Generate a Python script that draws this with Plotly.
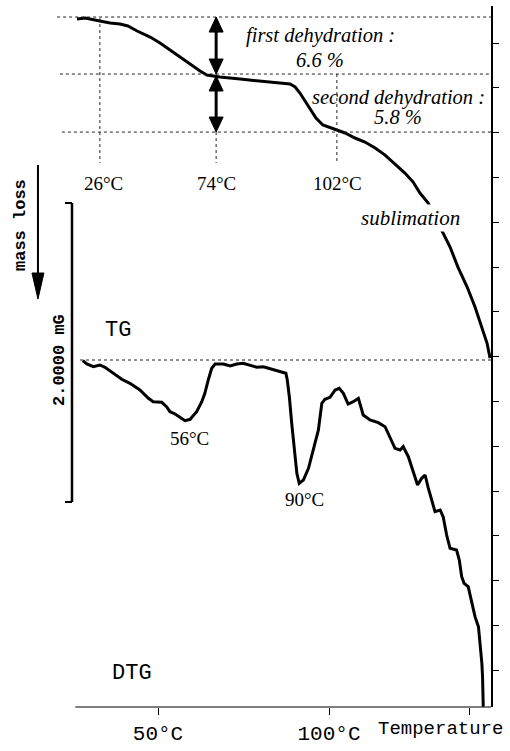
import plotly.graph_objects as go

# ---------------- data ----------------
# TG curve: temperature (°C) and remaining mass (%)
tg_T = [26.3, 28.7, 33.0, 36.0, 38.9, 41.2, 43.9, 47.7, 50.6, 53.5, 56.4, 59.4, 62.3, 64.3,
        66.1, 68.1, 74.0, 79.8, 85.7, 88.6, 90.1, 91.5, 93.0, 94.4, 96.2, 98.2, 100.3, 102.3,
        104.7, 107.6, 110.5, 113.5, 116.4, 119.3, 122.2, 124.6, 126.6, 129.0, 130.7, 132.5,
        135.4, 137.7, 140.4, 142.7, 144.7, 146.2, 147.1]
tg_mass = [99.78, 99.89, 99.57, 99.35, 99.24, 99.03, 98.49, 97.84, 97.20, 96.44, 95.69, 94.93,
           94.17, 93.74, 93.64, 93.53, 93.31, 93.10, 92.88, 92.77, 92.45, 91.80, 90.94, 90.08,
           89.10, 88.35, 88.03, 87.81, 87.49, 86.95, 86.52, 85.87, 85.11, 84.14, 83.17, 82.20,
           81.01, 79.94, 78.64, 77.24, 75.19, 73.03, 70.87, 68.72, 66.56, 64.83, 63.21]

# DTG curve: temperature (°C) and derivative signal (arbitrary units)
dtg_T = [28.0, 29.2, 31.1, 33.0, 34.5, 36.9, 39.4, 41.8, 44.7, 47.2, 48.6, 51.1, 52.5, 53.5,
         55.0, 56.4, 57.9, 59.4, 61.3, 62.8, 63.7, 64.7, 65.7, 66.7, 69.1, 71.1, 73.0, 74.9,
         76.9, 78.9, 80.8, 83.7, 86.2, 87.4, 87.8, 88.4, 89.1, 89.8, 90.6, 91.3, 92.5, 94.0,
         95.4, 96.9, 97.9, 98.8, 100.3, 101.8, 103.0, 104.2, 105.6, 107.1, 108.6, 110.0, 112.0,
         114.4, 116.4, 117.8, 119.3, 120.8, 121.7, 123.2, 124.7, 125.9, 127.1, 128.1, 129.0,
         130.0, 131.0, 132.5, 133.4, 134.4, 135.4, 137.3, 138.1, 138.8, 139.5, 140.7, 141.7,
         142.7, 143.7, 144.2, 144.7, 144.9, 145.1]
dtg_val = [-0.07, -0.40, -0.67, -0.50, -0.73, -1.33, -1.93, -2.33, -3.00, -3.83, -4.17, -4.23,
           -4.67, -5.17, -5.40, -5.73, -6.07, -5.93, -5.17, -4.17, -3.33, -2.00, -0.83, -0.40,
           -0.40, -0.60, -0.40, -0.33, -0.53, -0.73, -0.67, -0.93, -1.17, -1.33, -2.00, -3.67,
           -6.33, -9.00, -11.33, -12.33, -12.00, -10.83, -9.00, -7.00, -4.33, -3.93, -3.73,
           -3.00, -2.83, -3.33, -4.40, -4.17, -3.83, -5.50, -6.00, -6.27, -6.67, -7.67, -8.83,
           -9.00, -8.67, -9.67, -11.17, -12.50, -11.83, -11.50, -12.77, -14.00, -15.17, -15.00,
           -15.70, -17.50, -18.83, -19.00, -20.00, -21.67, -22.33, -22.67, -24.17, -25.67,
           -26.67, -28.33, -30.33, -31.67, -34.67]

# reference levels / marked temperatures
tg_levels = [100.0, 93.85, 87.59]          # dotted horizontal levels on TG
tg_level_start = [20.5, 21.3, 21.9]
mark_T = [33.0, 67.0, 102.3]               # dotted vertical marker positions
mark_labels = ["26°C", "74°C", "102°C"]
mark_label_T = [34.1, 67.1, 102.5]
peak_labels = ["56°C", "90°C"]
peak_T = [59.2, 92.7]
peak_val = [-7.8, -13.9]
x_tickvals = [50, 100, 141.1]
x_ticktext = ["50°C", "100°C", ""]

X_RANGE = [3.8, 147.37]
DTG_RANGE = [-34.7, 35.4]
TG_RANGE = [25.57, 101.19]

serif = "Liberation Serif"
mono = "Liberation Mono"

fig = go.Figure()
fig.add_trace(go.Scatter(x=tg_T, y=tg_mass, mode="lines", yaxis="y2",
                         line=dict(color="black", width=3), hoverinfo="skip"))
fig.add_trace(go.Scatter(x=dtg_T, y=dtg_val, mode="lines", yaxis="y",
                         line=dict(color="black", width=3), hoverinfo="skip"))

shapes = []
dot = dict(color="#222222", width=1, dash="dot")
for lv, x0 in zip(tg_levels, tg_level_start):
    shapes.append(dict(type="line", xref="x", yref="y2", x0=x0, x1=X_RANGE[1], y0=lv, y1=lv, line=dot))
# DTG baseline
shapes.append(dict(type="line", xref="x", yref="y", x0=27.2, x1=X_RANGE[1], y0=0, y1=0, line=dot))
# vertical markers
v_top = [99.89, 99.89, 93.85]
for t, top in zip(mark_T, v_top):
    shapes.append(dict(type="line", xref="x", yref="y2", x0=t, x1=t, y0=top, y1=84.25, line=dot))

# bottom axis line
shapes.append(dict(type="line", xref="x", yref="y domain", x0=25.8, x1=X_RANGE[1], y0=0, y1=0,
                   line=dict(color="black", width=1.2)))

# double arrows on TG (at 67 °C axis units)
ax_T = 67.0
hw = 2.05
seg = [(100.0, 93.85), (93.64, 87.59)]
for top, bot in seg:
    shapes.append(dict(type="line", xref="x", yref="y2", x0=ax_T, x1=ax_T, y0=top - 1.0, y1=bot + 1.0,
                       line=dict(color="black", width=3)))
    hh = 1.62
    shapes.append(dict(type="path", xref="x", yref="y2",
                       path=f"M {ax_T-hw},{top-hh} L {ax_T+hw},{top-hh} L {ax_T},{top} Z",
                       fillcolor="black", line=dict(color="black", width=1)))
    shapes.append(dict(type="path", xref="x", yref="y2",
                       path=f"M {ax_T-hw},{bot+hh} L {ax_T+hw},{bot+hh} L {ax_T},{bot} Z",
                       fillcolor="black", line=dict(color="black", width=1)))

# scale bar (2.0000 mG)
shapes.append(dict(type="line", xref="x", yref="y", x0=24.85, x1=24.85, y0=15.7, y1=-14.2,
                   line=dict(color="black", width=2.5)))
for yv in (15.7, -14.2):
    shapes.append(dict(type="line", xref="x", yref="y", x0=22.8, x1=24.85, y0=yv, y1=yv,
                       line=dict(color="black", width=2)))

# mass loss arrow
shapes.append(dict(type="line", xref="x", yref="y", x0=14.9, x1=14.9, y0=19.5, y1=8.0,
                   line=dict(color="black", width=2)))
shapes.append(dict(type="path", xref="x", yref="y",
                   path="M 13.15,8.7 L 16.65,8.7 L 14.9,6.1 Z",
                   fillcolor="black", line=dict(color="black", width=1)))

ann = []
def txt(x, y, s, size, family, italic=False, bold=False, yref="y", angle=0, bg=None):
    t = s
    if bold:
        t = f"<b>{t}</b>"
    if italic:
        t = f"<i>{t}</i>"
    d = dict(x=x, y=y, xref="x", yref=yref, text=t, showarrow=False, textangle=angle,
             font=dict(size=size, family=family, color="black"), xanchor="center", yanchor="middle")
    if bg:
        d["bgcolor"] = bg
    ann.append(d)

txt(97.4, 32.5, "first dehydration :", 20.5, serif, italic=True)
txt(97.4, 30.0, "6.6 %", 20.5, serif, italic=True)
txt(120.2, 26.3, "second dehydration :", 20.5, serif, italic=True)
txt(120.2, 24.3, "5.8 %", 20.5, serif, italic=True)
txt(123.7, 14.2, "sublimation", 21, serif, italic=True, bg="white")
for t, s in zip(mark_label_T, mark_labels):
    txt(t, 17.7, s, 19, serif)
for t, v, s in zip(peak_T, peak_val, peak_labels):
    txt(t, v, s, 19, serif)
txt(38.3, 3.0, "TG", 22, mono)
txt(42.4, -31.3, "DTG", 22, mono)
txt(9.65, 13.5, "mass loss", 17, mono, bold=True, angle=-90)
txt(21.05, 0.0, "2.0000 mG", 17, mono, bold=True, angle=-90)
ann.append(dict(x=132.5, y=-0.031, xref="x", yref="paper", text="Temperature", showarrow=False,
                font=dict(size=19, family=mono, color="black"), xanchor="center", yanchor="middle"))

fig.update_layout(
    width=510, height=751,
    margin=dict(l=0, r=19, t=6, b=44),
    paper_bgcolor="white", plot_bgcolor="white",
    showlegend=False,
    shapes=shapes, annotations=ann,
    xaxis=dict(range=X_RANGE, showgrid=False, zeroline=False, showline=False,
               tickvals=x_tickvals, ticktext=x_ticktext, ticks="outside", ticklen=7,
               tickcolor="black", tickwidth=1,
               tickfont=dict(size=21, family=mono, color="black")),
    yaxis=dict(range=DTG_RANGE, side="right", showgrid=False, zeroline=False, showline=True,
               linecolor="black", linewidth=1.5, ticks="outside", ticklen=6, tickcolor="black",
               tick0=0.34, dtick=4.48, showticklabels=False),
    yaxis2=dict(range=TG_RANGE, overlaying="y", showgrid=False, zeroline=False, showline=False,
                showticklabels=False, ticks=""),
)

fig.write_html("out.html")
